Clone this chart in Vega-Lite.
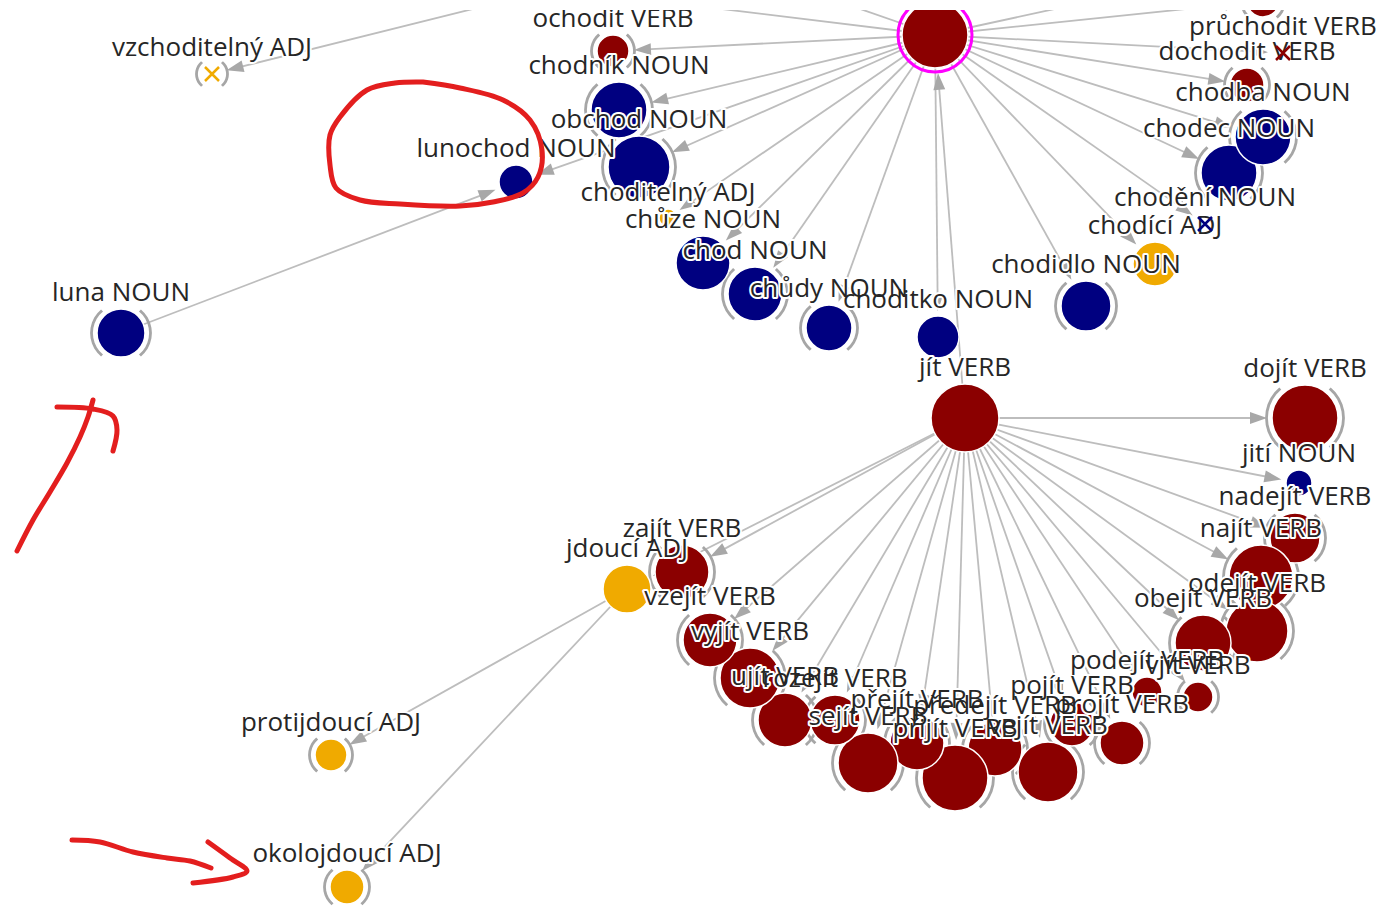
{
  "$schema": "https://vega.github.io/schema/vega-lite/v6.json",
  "width": 1384,
  "height": 907,
  "autosize": {"type": "fit", "contains": "padding"},
  "padding": {"left": 0, "right": 0, "top": 10, "bottom": 0},
  "background": "white",
  "config": {"view": {"stroke": null}},
  "datasets": {
    "nodes": [
      {"id": "chodit", "pos": "VERB", "x": 935, "y": 35, "r": 33, "br": 0, "st": "ok", "sel": 1},
      {"id": "ochodit", "pos": "VERB", "x": 613, "y": 51, "r": 16, "br": 1, "st": "ok", "sel": 0},
      {"id": "chodník", "pos": "NOUN", "x": 619, "y": 110, "r": 28, "br": 1, "st": "ok", "sel": 0},
      {"id": "obchod", "pos": "NOUN", "x": 639, "y": 167, "r": 31, "br": 1, "st": "ok", "sel": 0},
      {"id": "lunochod", "pos": "NOUN", "x": 516, "y": 182, "r": 17, "br": 0, "st": "ok", "sel": 0},
      {"id": "choditelný", "pos": "ADJ", "x": 668, "y": 218, "r": 9, "br": 0, "st": "ok", "sel": 0},
      {"id": "chůze", "pos": "NOUN", "x": 703, "y": 263, "r": 27, "br": 0, "st": "ok", "sel": 0},
      {"id": "chod", "pos": "NOUN", "x": 755, "y": 294, "r": 27, "br": 1, "st": "ok", "sel": 0},
      {"id": "chůdy", "pos": "NOUN", "x": 829, "y": 328, "r": 23, "br": 1, "st": "ok", "sel": 0},
      {"id": "choditko", "pos": "NOUN", "x": 938, "y": 337, "r": 21, "br": 0, "st": "ok", "sel": 0},
      {"id": "chodidlo", "pos": "NOUN", "x": 1086, "y": 306, "r": 25, "br": 1, "st": "ok", "sel": 0},
      {"id": "chodící", "pos": "ADJ", "x": 1155, "y": 264, "r": 22, "br": 0, "st": "ok", "sel": 0},
      {"id": "chodění", "pos": "NOUN", "x": 1205, "y": 224, "r": 10, "br": 0, "st": "x", "sel": 0},
      {"id": "chodec", "pos": "NOUN", "x": 1229, "y": 173, "r": 28, "br": 1, "st": "ok", "sel": 0},
      {"id": "chodba", "pos": "NOUN", "x": 1263, "y": 137, "r": 28, "br": 1, "st": "ok", "sel": 0},
      {"id": "dochodit", "pos": "VERB", "x": 1247, "y": 85, "r": 17, "br": 1, "st": "ok", "sel": 0},
      {"id": "průchodit", "pos": "VERB", "x": 1283, "y": 53, "r": 10, "br": 0, "st": "x", "sel": 0},
      {"id": "?", "pos": "VERB", "x": 1263, "y": 1, "r": 16, "br": 1, "st": "ok", "sel": 0},
      {"id": "luna", "pos": "NOUN", "x": 121, "y": 333, "r": 24, "br": 1, "st": "ok", "sel": 0},
      {"id": "vzchoditelný", "pos": "ADJ", "x": 212, "y": 74, "r": 10, "br": 1, "st": "x", "sel": 0},
      {"id": "jít", "pos": "VERB", "x": 965, "y": 418, "r": 34, "br": 0, "st": "ok", "sel": 0},
      {"id": "dojít", "pos": "VERB", "x": 1305, "y": 418, "r": 33, "br": 1, "st": "ok", "sel": 0},
      {"id": "jití", "pos": "NOUN", "x": 1299, "y": 483, "r": 13, "br": 0, "st": "ok", "sel": 0},
      {"id": "nadejít", "pos": "VERB", "x": 1295, "y": 538, "r": 25, "br": 1, "st": "ok", "sel": 0},
      {"id": "najít", "pos": "VERB", "x": 1261, "y": 577, "r": 32, "br": 1, "st": "ok", "sel": 0},
      {"id": "odejít", "pos": "VERB", "x": 1257, "y": 631, "r": 31, "br": 1, "st": "ok", "sel": 0},
      {"id": "obejít", "pos": "VERB", "x": 1203, "y": 643, "r": 28, "br": 1, "st": "ok", "sel": 0},
      {"id": "podejít", "pos": "VERB", "x": 1147, "y": 692, "r": 15, "br": 0, "st": "ok", "sel": 0},
      {"id": "vjít", "pos": "VERB", "x": 1198, "y": 697, "r": 15, "br": 1, "st": "ok", "sel": 0},
      {"id": "projít", "pos": "VERB", "x": 1122, "y": 743, "r": 22, "br": 1, "st": "ok", "sel": 0},
      {"id": "pojít", "pos": "VERB", "x": 1072, "y": 724, "r": 22, "br": 1, "st": "ok", "sel": 0},
      {"id": "vejít", "pos": "VERB", "x": 1048, "y": 772, "r": 30, "br": 1, "st": "ok", "sel": 0},
      {"id": "předejít", "pos": "VERB", "x": 995, "y": 749, "r": 27, "br": 1, "st": "ok", "sel": 0},
      {"id": "přijít", "pos": "VERB", "x": 955, "y": 778, "r": 33, "br": 1, "st": "ok", "sel": 0},
      {"id": "přejít", "pos": "VERB", "x": 917, "y": 743, "r": 27, "br": 1, "st": "ok", "sel": 0},
      {"id": "sejít", "pos": "VERB", "x": 868, "y": 763, "r": 30, "br": 1, "st": "ok", "sel": 0},
      {"id": "rozejít", "pos": "VERB", "x": 835, "y": 720, "r": 25, "br": 1, "st": "ok", "sel": 0},
      {"id": "ujít", "pos": "VERB", "x": 785, "y": 720, "r": 27, "br": 1, "st": "ok", "sel": 0},
      {"id": "vyjít", "pos": "VERB", "x": 750, "y": 678, "r": 30, "br": 1, "st": "ok", "sel": 0},
      {"id": "vzejít", "pos": "VERB", "x": 710, "y": 640, "r": 27, "br": 1, "st": "ok", "sel": 0},
      {"id": "zajít", "pos": "VERB", "x": 682, "y": 572, "r": 27, "br": 1, "st": "ok", "sel": 0},
      {"id": "jdoucí", "pos": "ADJ", "x": 627, "y": 589, "r": 24, "br": 0, "st": "ok", "sel": 0},
      {"id": "protijdoucí", "pos": "ADJ", "x": 331, "y": 755, "r": 16, "br": 1, "st": "ok", "sel": 0},
      {"id": "okolojdoucí", "pos": "ADJ", "x": 347, "y": 887, "r": 17, "br": 1, "st": "ok", "sel": 0},
      {"id": "h1", "pos": "", "x": 589, "y": -20, "r": 10, "br": 0, "st": "off", "sel": 0},
      {"id": "h2", "pos": "", "x": 484, "y": -20, "r": 10, "br": 0, "st": "off", "sel": 0},
      {"id": "h3", "pos": "", "x": 777, "y": -20, "r": 10, "br": 0, "st": "off", "sel": 0},
      {"id": "h4", "pos": "", "x": 1188, "y": -20, "r": 10, "br": 0, "st": "off", "sel": 0}
    ],
    "edges": [
      {"s": "chodit", "t": "ochodit"},
      {"s": "chodit", "t": "chodník"},
      {"s": "chodit", "t": "obchod"},
      {"s": "chodit", "t": "lunochod"},
      {"s": "chodit", "t": "choditelný"},
      {"s": "chodit", "t": "chůze"},
      {"s": "chodit", "t": "chod"},
      {"s": "chodit", "t": "chůdy"},
      {"s": "chodit", "t": "choditko"},
      {"s": "chodit", "t": "chodidlo"},
      {"s": "chodit", "t": "chodící"},
      {"s": "chodit", "t": "chodění"},
      {"s": "chodit", "t": "chodec"},
      {"s": "chodit", "t": "chodba"},
      {"s": "chodit", "t": "dochodit"},
      {"s": "chodit", "t": "průchodit"},
      {"s": "chodit", "t": "?"},
      {"s": "chodit", "t": "h2"},
      {"s": "chodit", "t": "h3"},
      {"s": "chodit", "t": "h4"},
      {"s": "h1", "t": "vzchoditelný"},
      {"s": "luna", "t": "lunochod"},
      {"s": "jít", "t": "chodit"},
      {"s": "jít", "t": "dojít"},
      {"s": "jít", "t": "jití"},
      {"s": "jít", "t": "nadejít"},
      {"s": "jít", "t": "najít"},
      {"s": "jít", "t": "odejít"},
      {"s": "jít", "t": "obejít"},
      {"s": "jít", "t": "podejít"},
      {"s": "jít", "t": "vjít"},
      {"s": "jít", "t": "projít"},
      {"s": "jít", "t": "pojít"},
      {"s": "jít", "t": "vejít"},
      {"s": "jít", "t": "předejít"},
      {"s": "jít", "t": "přijít"},
      {"s": "jít", "t": "přejít"},
      {"s": "jít", "t": "sejít"},
      {"s": "jít", "t": "rozejít"},
      {"s": "jít", "t": "ujít"},
      {"s": "jít", "t": "vyjít"},
      {"s": "jít", "t": "vzejít"},
      {"s": "jít", "t": "zajít"},
      {"s": "jít", "t": "jdoucí"},
      {"s": "jdoucí", "t": "protijdoucí"},
      {"s": "jdoucí", "t": "okolojdoucí"}
    ],
    "ink": [
      {"g": 1, "i": 0, "x": 423, "y": 82}, {"g": 1, "i": 1, "x": 460, "y": 88}, {"g": 1, "i": 2, "x": 503, "y": 100},
      {"g": 1, "i": 3, "x": 530, "y": 120}, {"g": 1, "i": 4, "x": 542, "y": 150}, {"g": 1, "i": 5, "x": 538, "y": 177},
      {"g": 1, "i": 6, "x": 523, "y": 193}, {"g": 1, "i": 7, "x": 493, "y": 202}, {"g": 1, "i": 8, "x": 460, "y": 206},
      {"g": 1, "i": 9, "x": 400, "y": 204}, {"g": 1, "i": 10, "x": 360, "y": 200}, {"g": 1, "i": 11, "x": 336, "y": 188},
      {"g": 1, "i": 12, "x": 330, "y": 165}, {"g": 1, "i": 13, "x": 330, "y": 135}, {"g": 1, "i": 14, "x": 340, "y": 117},
      {"g": 1, "i": 15, "x": 367, "y": 90}, {"g": 1, "i": 16, "x": 395, "y": 83}, {"g": 1, "i": 17, "x": 423, "y": 82},
      {"g": 2, "i": 0, "x": 17, "y": 551}, {"g": 2, "i": 1, "x": 33, "y": 520}, {"g": 2, "i": 2, "x": 50, "y": 492},
      {"g": 2, "i": 3, "x": 67, "y": 463}, {"g": 2, "i": 4, "x": 80, "y": 437}, {"g": 2, "i": 5, "x": 88, "y": 417},
      {"g": 2, "i": 6, "x": 93, "y": 400},
      {"g": 3, "i": 0, "x": 57, "y": 407}, {"g": 3, "i": 1, "x": 93, "y": 409}, {"g": 3, "i": 2, "x": 113, "y": 416},
      {"g": 3, "i": 3, "x": 117, "y": 430}, {"g": 3, "i": 4, "x": 113, "y": 451},
      {"g": 4, "i": 0, "x": 72, "y": 840}, {"g": 4, "i": 1, "x": 100, "y": 842}, {"g": 4, "i": 2, "x": 133, "y": 852},
      {"g": 4, "i": 3, "x": 167, "y": 858}, {"g": 4, "i": 4, "x": 190, "y": 861}, {"g": 4, "i": 5, "x": 211, "y": 868},
      {"g": 5, "i": 0, "x": 208, "y": 842}, {"g": 5, "i": 1, "x": 230, "y": 858}, {"g": 5, "i": 2, "x": 247, "y": 871},
      {"g": 5, "i": 3, "x": 233, "y": 877}, {"g": 5, "i": 4, "x": 193, "y": 883}
    ]
  },
  "layer": [
    {
      "data": {"name": "edges"},
      "transform": [
        {"lookup": "s", "from": {"data": {"name": "nodes"}, "key": "id", "fields": ["x", "y"]}, "as": ["sx", "sy"]},
        {"lookup": "t", "from": {"data": {"name": "nodes"}, "key": "id", "fields": ["x", "y", "r"]}, "as": ["tx", "ty", "tr"]},
        {"calculate": "datum.tx - datum.sx", "as": "dx"},
        {"calculate": "datum.ty - datum.sy", "as": "dy"},
        {"calculate": "sqrt(datum.dx * datum.dx + datum.dy * datum.dy)", "as": "len"},
        {"calculate": "datum.dx / datum.len", "as": "ux"},
        {"calculate": "datum.dy / datum.len", "as": "uy"},
        {"calculate": "datum.tx - datum.ux * (datum.tr + 12)", "as": "ex"},
        {"calculate": "datum.ty - datum.uy * (datum.tr + 12)", "as": "ey"},
        {"calculate": "datum.tx - datum.ux * (datum.tr + 13.5)", "as": "ax"},
        {"calculate": "datum.ty - datum.uy * (datum.tr + 13.5)", "as": "ay"},
        {"calculate": "atan2(datum.ux, -datum.uy) * 180 / PI", "as": "ang"}
      ],
      "layer": [
        {
          "mark": {"type": "rule", "color": "#bdbdbd", "strokeWidth": 1.8, "clip": true},
          "encoding": {
            "x": {"field": "sx", "type": "quantitative", "scale": {"domain": [0, 1384], "nice": false, "zero": false}, "axis": null},
            "y": {"field": "sy", "type": "quantitative", "scale": {"domain": [10, 907], "nice": false, "zero": false, "reverse": true}, "axis": null},
            "x2": {"field": "ex"},
            "y2": {"field": "ey"}
          }
        },
        {
          "mark": {"type": "point", "shape": "M0,-1L0.7,1L-0.7,1Z", "filled": true, "color": "#a8a8a8", "opacity": 1, "size": 289, "clip": true},
          "encoding": {
            "x": {"field": "ax", "type": "quantitative", "scale": {"domain": [0, 1384], "nice": false, "zero": false}, "axis": null},
            "y": {"field": "ay", "type": "quantitative", "scale": {"domain": [10, 907], "nice": false, "zero": false, "reverse": true}, "axis": null},
            "angle": {"field": "ang", "type": "quantitative", "scale": null}
          }
        }
      ]
    },
    {
      "data": {"name": "nodes"},
      "transform": [
        {"filter": "datum.br == 1"},
        {"calculate": "datum.r + 5.5", "as": "pr"}
      ],
      "mark": {"type": "point", "shape": "M0.6428,-0.766L0.766,-0.6428L0.866,-0.5L0.9397,-0.342L0.9848,-0.1736L1,0L0.9848,0.1736L0.9397,0.342L0.866,0.5L0.766,0.6428L0.6428,0.766M-0.6428,-0.766L-0.766,-0.6428L-0.866,-0.5L-0.9397,-0.342L-0.9848,-0.1736L-1,0L-0.9848,0.1736L-0.9397,0.342L-0.866,0.5L-0.766,0.6428L-0.6428,0.766", "filled": false, "color": "#a6a6a6", "strokeWidth": 2.8, "opacity": 1, "clip": true},
      "encoding": {
        "x": {"field": "x", "type": "quantitative", "scale": {"domain": [0, 1384], "nice": false, "zero": false}, "axis": null},
        "y": {"field": "y", "type": "quantitative", "scale": {"domain": [10, 907], "nice": false, "zero": false, "reverse": true}, "axis": null},
        "size": {"field": "pr", "type": "quantitative", "scale": {"type": "pow", "exponent": 2, "domain": [0, 50], "range": [0, 10000]}, "legend": null}
      }
    },
    {
      "data": {"name": "nodes"},
      "transform": [{"filter": "datum.st == 'ok'"}],
      "mark": {"type": "point", "shape": "circle", "filled": true, "opacity": 1, "stroke": "white", "strokeWidth": 1.5, "clip": true},
      "encoding": {
        "x": {"field": "x", "type": "quantitative", "scale": {"domain": [0, 1384], "nice": false, "zero": false}, "axis": null},
        "y": {"field": "y", "type": "quantitative", "scale": {"domain": [10, 907], "nice": false, "zero": false, "reverse": true}, "axis": null},
        "size": {"field": "r", "type": "quantitative", "scale": {"type": "pow", "exponent": 2, "domain": [0, 50], "range": [0, 10000]}, "legend": null},
        "color": {"field": "pos", "type": "nominal", "scale": {"domain": ["VERB", "NOUN", "ADJ"], "range": ["#8b0000", "#000080", "#f0aa00"]}, "legend": null}
      }
    },
    {
      "data": {"name": "nodes"},
      "transform": [{"filter": "datum.sel == 1"}, {"calculate": "datum.r + 4", "as": "rr"}],
      "mark": {"type": "point", "shape": "circle", "filled": false, "opacity": 1, "color": "#ff00ff", "strokeWidth": 3, "clip": true},
      "encoding": {
        "x": {"field": "x", "type": "quantitative", "scale": {"domain": [0, 1384], "nice": false, "zero": false}, "axis": null},
        "y": {"field": "y", "type": "quantitative", "scale": {"domain": [10, 907], "nice": false, "zero": false, "reverse": true}, "axis": null},
        "size": {"field": "rr", "type": "quantitative", "scale": {"type": "pow", "exponent": 2, "domain": [0, 50], "range": [0, 10000]}, "legend": null}
      }
    },
    {
      "data": {"name": "nodes"},
      "transform": [
        {"filter": "datum.st != 'off'"},
        {"calculate": "datum.id + ' ' + datum.pos", "as": "label"},
        {"calculate": "datum.y - datum.r - 16", "as": "ly"}
      ],
      "layer": [
        {
          "mark": {"type": "text", "font": "Open Sans", "fontSize": 26, "align": "center", "baseline": "middle", "fill": "white", "stroke": "white", "strokeWidth": 4, "strokeJoin": "round", "clip": true},
          "encoding": {
            "x": {"field": "x", "type": "quantitative", "scale": {"domain": [0, 1384], "nice": false, "zero": false}, "axis": null},
            "y": {"field": "ly", "type": "quantitative", "scale": {"domain": [10, 907], "nice": false, "zero": false, "reverse": true}, "axis": null},
            "text": {"field": "label"}
          }
        },
        {
          "mark": {"type": "text", "font": "Open Sans", "fontSize": 26, "align": "center", "baseline": "middle", "fill": "#262626", "clip": true},
          "encoding": {
            "x": {"field": "x", "type": "quantitative", "scale": {"domain": [0, 1384], "nice": false, "zero": false}, "axis": null},
            "y": {"field": "ly", "type": "quantitative", "scale": {"domain": [10, 907], "nice": false, "zero": false, "reverse": true}, "axis": null},
            "text": {"field": "label"}
          }
        }
      ]
    },
    {
      "data": {"name": "nodes"},
      "transform": [{"filter": "datum.st == 'x'"}],
      "mark": {"type": "point", "shape": "M-1,-1L1,1M-1,1L1,-1", "filled": false, "opacity": 1, "strokeWidth": 2.5, "size": 196, "clip": true},
      "encoding": {
        "x": {"field": "x", "type": "quantitative", "scale": {"domain": [0, 1384], "nice": false, "zero": false}, "axis": null},
        "y": {"field": "y", "type": "quantitative", "scale": {"domain": [10, 907], "nice": false, "zero": false, "reverse": true}, "axis": null},
        "color": {"field": "pos", "type": "nominal", "scale": {"domain": ["VERB", "NOUN", "ADJ"], "range": ["#8b0000", "#000080", "#f0aa00"]}, "legend": null}
      }
    },
    {
      "data": {"name": "ink"},
      "mark": {"type": "line", "color": "#e31e1e", "strokeWidth": 5, "strokeCap": "round", "strokeJoin": "round", "interpolate": "catmull-rom", "clip": true},
      "encoding": {
        "x": {"field": "x", "type": "quantitative", "scale": {"domain": [0, 1384], "nice": false, "zero": false}, "axis": null},
        "y": {"field": "y", "type": "quantitative", "scale": {"domain": [10, 907], "nice": false, "zero": false, "reverse": true}, "axis": null},
        "detail": {"field": "g", "type": "nominal"},
        "order": {"field": "i", "type": "quantitative"}
      }
    }
  ]
}
